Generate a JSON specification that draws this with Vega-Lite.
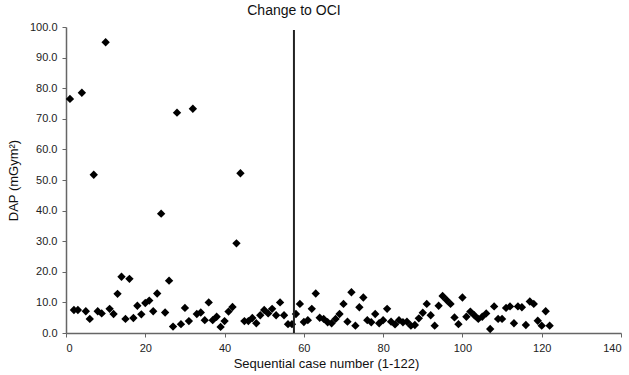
{
  "$schema": "https://vega.github.io/schema/vega-lite/v6.json",
  "width": 555,
  "height": 306,
  "autosize": {"type": "none"},
  "padding": {"left": 66, "top": 27, "right": 8, "bottom": 42},
  "background": "white",
  "config": {"view": {"stroke": null}, "font": "Liberation Sans", "axis": {"labelOverlap": false}},
  "datasets": {
    "pts": [
      {"case": 1, "dap": 76.5}, {"case": 2, "dap": 7.5}, {"case": 3, "dap": 7.5}, {"case": 4, "dap": 78.5},
      {"case": 5, "dap": 7.1}, {"case": 6, "dap": 4.6}, {"case": 7, "dap": 51.7}, {"case": 8, "dap": 7.1},
      {"case": 9, "dap": 6.4}, {"case": 10, "dap": 95.0}, {"case": 11, "dap": 7.9}, {"case": 12, "dap": 6.2},
      {"case": 13, "dap": 12.8}, {"case": 14, "dap": 18.4}, {"case": 15, "dap": 4.6}, {"case": 16, "dap": 17.7},
      {"case": 17, "dap": 4.9}, {"case": 18, "dap": 8.9}, {"case": 19, "dap": 6.1}, {"case": 20, "dap": 9.8},
      {"case": 21, "dap": 10.6}, {"case": 22, "dap": 7.1}, {"case": 23, "dap": 12.9}, {"case": 24, "dap": 39.0},
      {"case": 25, "dap": 6.7}, {"case": 26, "dap": 17.1}, {"case": 27, "dap": 2.1}, {"case": 28, "dap": 72.0},
      {"case": 29, "dap": 2.9}, {"case": 30, "dap": 8.2}, {"case": 31, "dap": 3.9}, {"case": 32, "dap": 73.3},
      {"case": 33, "dap": 6.2}, {"case": 34, "dap": 6.7}, {"case": 35, "dap": 4.2}, {"case": 36, "dap": 10.0},
      {"case": 37, "dap": 4.2}, {"case": 38, "dap": 5.3}, {"case": 39, "dap": 2.0}, {"case": 40, "dap": 3.9},
      {"case": 41, "dap": 7.0}, {"case": 42, "dap": 8.5}, {"case": 43, "dap": 29.3}, {"case": 44, "dap": 52.2},
      {"case": 45, "dap": 3.9}, {"case": 46, "dap": 3.9}, {"case": 47, "dap": 4.9}, {"case": 48, "dap": 3.2},
      {"case": 49, "dap": 5.8}, {"case": 50, "dap": 7.5}, {"case": 51, "dap": 6.4}, {"case": 52, "dap": 7.9},
      {"case": 53, "dap": 5.8}, {"case": 54, "dap": 10.0}, {"case": 55, "dap": 5.8}, {"case": 56, "dap": 2.9},
      {"case": 57, "dap": 2.9}, {"case": 58, "dap": 6.2}, {"case": 59, "dap": 9.5}, {"case": 60, "dap": 3.6},
      {"case": 61, "dap": 4.2}, {"case": 62, "dap": 7.9}, {"case": 63, "dap": 12.9}, {"case": 64, "dap": 5.0},
      {"case": 65, "dap": 4.6}, {"case": 66, "dap": 3.5}, {"case": 67, "dap": 3.2}, {"case": 68, "dap": 4.6},
      {"case": 69, "dap": 6.2}, {"case": 70, "dap": 9.5}, {"case": 71, "dap": 3.7}, {"case": 72, "dap": 13.3},
      {"case": 73, "dap": 2.4}, {"case": 74, "dap": 8.4}, {"case": 75, "dap": 11.6}, {"case": 76, "dap": 4.2},
      {"case": 77, "dap": 3.5}, {"case": 78, "dap": 6.2}, {"case": 79, "dap": 3.2}, {"case": 80, "dap": 4.2},
      {"case": 81, "dap": 7.9}, {"case": 82, "dap": 3.7}, {"case": 83, "dap": 2.8}, {"case": 84, "dap": 4.2},
      {"case": 85, "dap": 3.5}, {"case": 86, "dap": 3.7}, {"case": 87, "dap": 2.4}, {"case": 88, "dap": 2.6},
      {"case": 89, "dap": 4.8}, {"case": 90, "dap": 6.6}, {"case": 91, "dap": 9.5}, {"case": 92, "dap": 5.8},
      {"case": 93, "dap": 2.4}, {"case": 94, "dap": 8.9}, {"case": 95, "dap": 12.1}, {"case": 96, "dap": 10.8},
      {"case": 97, "dap": 9.5}, {"case": 98, "dap": 5.1}, {"case": 99, "dap": 2.9}, {"case": 100, "dap": 11.6},
      {"case": 101, "dap": 5.3}, {"case": 102, "dap": 7.0}, {"case": 103, "dap": 5.8}, {"case": 104, "dap": 4.6},
      {"case": 105, "dap": 5.3}, {"case": 106, "dap": 6.4}, {"case": 107, "dap": 1.3}, {"case": 108, "dap": 8.7},
      {"case": 109, "dap": 4.6}, {"case": 110, "dap": 4.6}, {"case": 111, "dap": 8.2}, {"case": 112, "dap": 8.7},
      {"case": 113, "dap": 3.2}, {"case": 114, "dap": 8.7}, {"case": 115, "dap": 8.4}, {"case": 116, "dap": 2.6},
      {"case": 117, "dap": 10.3}, {"case": 118, "dap": 9.5}, {"case": 119, "dap": 4.0}, {"case": 120, "dap": 2.4},
      {"case": 121, "dap": 7.1}, {"case": 122, "dap": 2.4}
    ],
    "marker": [{"case": 57.5, "dap": 0, "hi": 99, "labelY": 103, "label": "Change to OCI"}]
  },
  "layer": [
    {
      "data": {"name": "pts"},
      "mark": {"type": "point", "shape": "diamond", "filled": true, "color": "black", "size": 70, "opacity": 1},
      "encoding": {
        "x": {
          "field": "case", "type": "quantitative",
          "scale": {"domain": [0, 140], "nice": false},
          "axis": {
            "values": [0, 20, 40, 60, 80, 100, 120, 140], "format": "d", "labelOverlap": false,
            "title": "Sequential case number (1-122)", "titleFontSize": 13, "titleFontWeight": "normal",
            "titleColor": "#111", "titleX": 260, "titlePadding": 4,
            "labelFontSize": 11, "labelColor": "#222", "labelPadding": 5,
            "grid": false, "domainColor": "#666", "tickColor": "#666", "tickSize": 4, "domainWidth": 1.5
          }
        },
        "y": {
          "field": "dap", "type": "quantitative",
          "scale": {"domain": [0, 100], "nice": false},
          "axis": {
            "tickCount": 10, "format": ".1f", "labelOverlap": false,
            "title": "DAP (mGym²)", "titleFontSize": 13, "titleFontWeight": "normal",
            "titleColor": "#111", "titlePadding": 9,
            "labelFontSize": 11, "labelColor": "#222", "labelPadding": 5,
            "grid": false, "domainColor": "#666", "tickColor": "#666", "tickSize": 4, "domainWidth": 1.5
          }
        }
      }
    },
    {
      "data": {"name": "marker"},
      "mark": {"type": "rule", "color": "#222", "strokeWidth": 2},
      "encoding": {
        "x": {"field": "case", "type": "quantitative"},
        "y": {"field": "dap", "type": "quantitative"},
        "y2": {"field": "hi"}
      }
    },
    {
      "data": {"name": "marker"},
      "mark": {"type": "text", "fontSize": 14, "color": "#111", "baseline": "bottom", "align": "center"},
      "encoding": {
        "x": {"field": "case", "type": "quantitative"},
        "y": {"field": "labelY", "type": "quantitative"},
        "text": {"field": "label"}
      }
    }
  ]
}
